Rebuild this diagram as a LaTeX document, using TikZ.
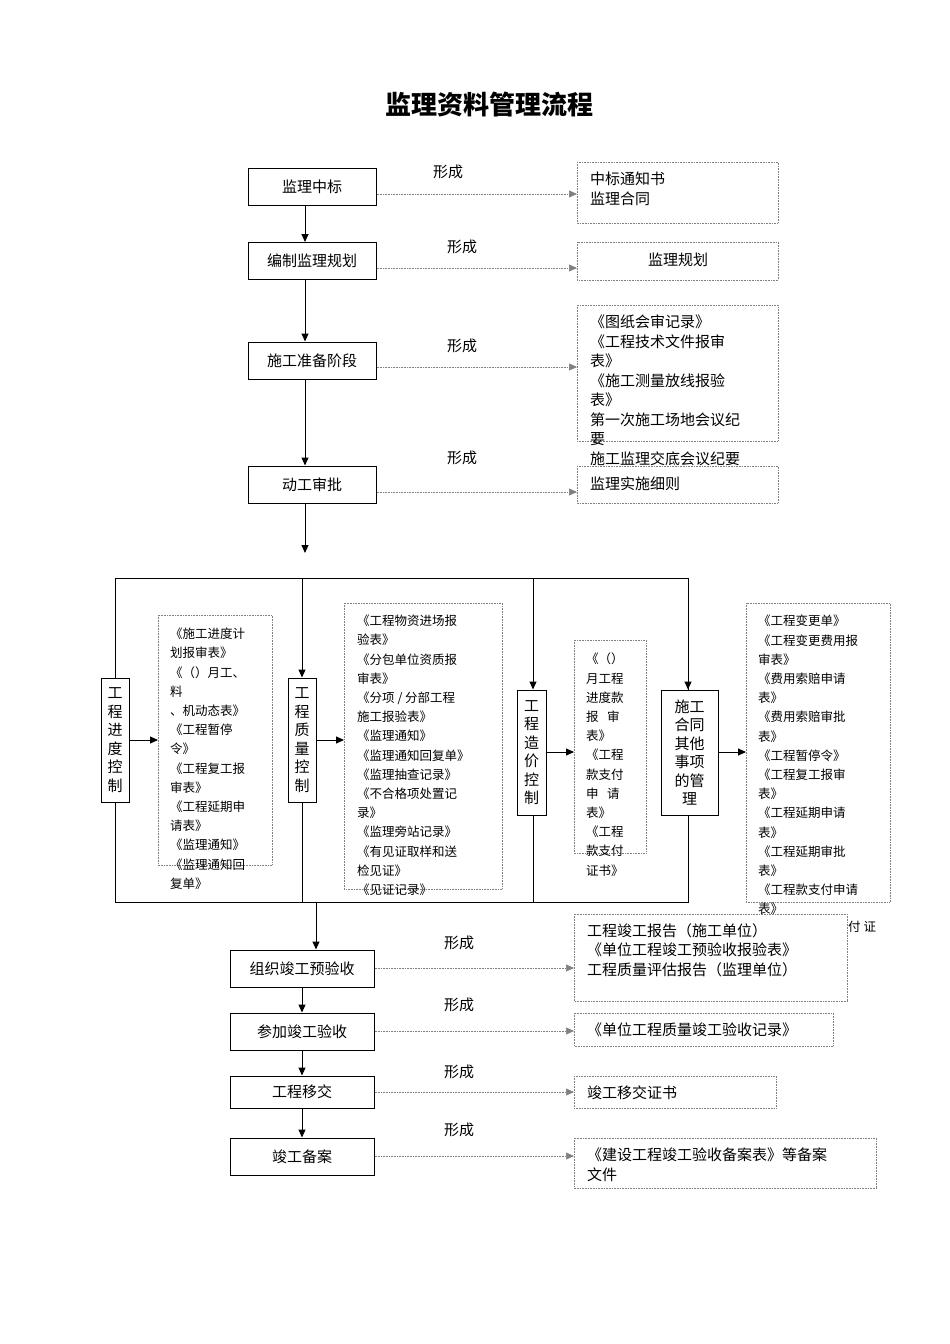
\documentclass[tikz,border=0pt]{standalone}
\usepackage{fontspec}
\setmainfont{Noto Sans CJK SC}
\usetikzlibrary{arrows.meta}
\begin{document}
\begin{tikzpicture}[x=1pt,y=-1pt,
 box/.style={draw,line width=1pt,minimum width=128pt,minimum height=37pt,font=\fontsize{15}{18}\selectfont,inner sep=0},
 vbox/.style={draw,line width=1pt,font=\fontsize{15}{18.5}\selectfont,align=center,inner sep=0},
 dbox/.style={draw,gray,densely dotted,line width=0.6pt},
 txt/.style={anchor=north west,align=left,inner sep=0,font=\fontsize{15}{19.5}\selectfont},
 stxt/.style={anchor=north west,align=left,inner sep=0,font=\fontsize{12.5}{19.2}\selectfont},
 lab/.style={font=\fontsize{15}{18}\selectfont,inner sep=0},
 arr/.style={-{Triangle[length=8pt,width=7pt]},line width=1pt},
 darr/.style={-{Triangle[length=8pt,width=7pt]},gray,densely dotted,line width=0.6pt}]
\useasboundingbox (0,0) rectangle (950,1344);
\node[font=\fontsize{26}{30}\selectfont\bfseries] (title) at (489,105) {监理资料管理流程};
% main flow
\node[box] (b1) at (312,186.5) {监理中标};
\node[box] (b2) at (312,261) {编制监理规划};
\node[box] (b3) at (312,360.5) {施工准备阶段};
\node[box] (b4) at (312,484.5) {动工审批};
\coordinate (e4) at (305,553);
\draw[arr] (b1.south-|305,0) -- (b2.north-|305,0);
\draw[arr] (b2.south-|305,0) -- (b3.north-|305,0);
\draw[arr] (b3.south-|305,0) -- (b4.north-|305,0);
\draw[arr] (b4.south-|305,0) -- (e4);
% right dotted boxes
\draw[dbox] (577,162) rectangle (778,223);
\draw[dbox] (577,242) rectangle (778,280);
\draw[dbox] (577,305) rectangle (778,441);
\draw[dbox] (577,466) rectangle (778,503);
\coordinate (r1) at (577,194); \coordinate (r2) at (577,268);
\coordinate (r3) at (577,367); \coordinate (r4) at (577,492);
\draw[darr] (b1.east|-r1) -- (r1);
\draw[darr] (b2.east|-r2) -- (r2);
\draw[darr] (b3.east|-r3) -- (r3);
\draw[darr] (b4.east|-r4) -- (r4);
\node[lab] (f1) at (448,172) {形成};
\node[lab] (f2) at (462,247) {形成};
\node[lab] (f3) at (462,346) {形成};
\node[lab] (f4) at (462,458) {形成};
\node[txt] (t1) at (590,172) {中标通知书\\监理合同};
\node[lab] (t2) at (678,260) {监理规划};
\node[txt] (t3) at (590,315) {《图纸会审记录》\\《工程技术文件报审\\表》\\《施工测量放线报验\\表》\\第一次施工场地会议纪\\要\\施工监理交底会议纪要};
\node[txt] (t4) at (590,477) {监理实施细则};
% frame
\node[vbox,minimum width=28pt,minimum height=124pt,text width=16pt] (v1) at (115,740) {工\\程\\进\\度\\控\\制};
\node[vbox,minimum width=28pt,minimum height=124pt,text width=16pt] (v2) at (302,740) {工\\程\\质\\量\\控\\制};
\node[vbox,minimum width=29pt,minimum height=125pt,text width=16pt] (v3) at (531.5,752.5) {工\\程\\造\\价\\控\\制};
\node[vbox,minimum width=57pt,minimum height=125pt,text width=32pt] (v4) at (689.5,752.5) {施工\\合同\\其他\\事项\\的管\\理};
\coordinate (tl) at (115,578); \coordinate (tr) at (688,578);
\coordinate (bl) at (115,902); \coordinate (br) at (688,902);
\draw[line width=1pt] (v1.north) -- (tl) -- (tr) -- (v4.north-|tr);
\draw[arr] (302,578) -- (v2.north);
\draw[arr] (533,578) -- (v3.north-|533,0);
\draw[arr] (688,578) -- (v4.north-|688,0);
\draw[line width=1pt] (v1.south) -- (bl) -- (br) -- (v4.south-|br);
\draw[line width=1pt] (v2.south) -- (302,902);
\draw[line width=1pt] (v3.south-|533,0) -- (533,902);
\draw[dbox] (158,615) rectangle (272,865);
\draw[dbox] (344,603) rectangle (502,889);
\draw[dbox] (574,640) rectangle (646,853);
\draw[dbox] (746,603) rectangle (890,902);
\coordinate (d1) at (158,740); \coordinate (d2) at (344,740);
\coordinate (d3) at (574,752); \coordinate (d4) at (746,752);
\draw[arr] (v1.east|-d1) -- (d1);
\draw[arr] (v2.east|-d2) -- (d2);
\draw[arr] (v3.east|-d3) -- (d3);
\draw[arr] (v4.east|-d4) -- (d4);
\node[stxt] (s1) at (170,628) {《施工进度计\\划报审表》\\《（）月工、\\料\\、机动态表》\\《工程暂停\\令》\\《工程复工报\\审表》\\《工程延期申\\请表》\\《监理通知》\\《监理通知回\\复单》};
\node[stxt] (s2) at (357,615) {《工程物资进场报\\验表》\\《分包单位资质报\\审表》\\《分项 / 分部工程\\施工报验表》\\《监理通知》\\《监理通知回复单》\\《监理抽查记录》\\《不合格项处置记\\录》\\《监理旁站记录》\\《有见证取样和送\\检见证》\\《见证记录》};
\node[stxt] (s3) at (586,653) {《（）\\月工程\\进度款\\报\ \ \ 审\\表》\\《工程\\款支付\\申\ \ \ 请\\表》\\《工程\\款支付\\证书》};
\node[stxt] (s4) at (758,615) {《工程变更单》\\《工程变更费用报\\审表》\\《费用索赔申请\\表》\\《费用索赔审批\\表》\\《工程暂停令》\\《工程复工报审\\表》\\《工程延期申请\\表》\\《工程延期审批\\表》\\《工程款支付申请\\表》};
\node[stxt] (s5) at (848,921) {付\ 证};
% lower part
\node[box,minimum width=144pt] (c1) at (302,968.5) {组织竣工预验收};
\node[box,minimum width=144pt] (c2) at (302,1031.5) {参加竣工验收};
\node[box,minimum width=144pt,minimum height=32pt] (c3) at (302,1092) {工程移交};
\node[box,minimum width=144pt] (c4) at (302,1156.5) {竣工备案};
\draw[arr] (316,902) -- (c1.north-|316,0);
\draw[arr] (c1) -- (c2);
\draw[arr] (c2) -- (c3);
\draw[arr] (c3) -- (c4);
\draw[dbox] (574,914) rectangle (847,1001);
\draw[dbox] (574,1013) rectangle (833,1046);
\draw[dbox] (574,1076) rectangle (776,1108);
\draw[dbox] (574,1138) rectangle (876,1188);
\coordinate (q1) at (574,968); \coordinate (q2) at (574,1031);
\coordinate (q3) at (574,1092); \coordinate (q4) at (574,1156);
\draw[darr] (c1.east|-q1) -- (q1);
\draw[darr] (c2.east|-q2) -- (q2);
\draw[darr] (c3.east|-q3) -- (q3);
\draw[darr] (c4.east|-q4) -- (q4);
\node[lab] (g1) at (459,943) {形成};
\node[lab] (g2) at (459,1005) {形成};
\node[lab] (g3) at (459,1072) {形成};
\node[lab] (g4) at (459,1130) {形成};
\node[txt] (u1) at (587,923) {工程竣工报告（施工单位）\\《单位工程竣工预验收报验表》\\工程质量评估报告（监理单位）};
\node[txt] (u2) at (587,1023) {《单位工程质量竣工验收记录》};
\node[txt] (u3) at (587,1086) {竣工移交证书};
\node[txt] (u4) at (587,1148) {《建设工程竣工验收备案表》等备案\\文件};
\end{tikzpicture}
\end{document}
